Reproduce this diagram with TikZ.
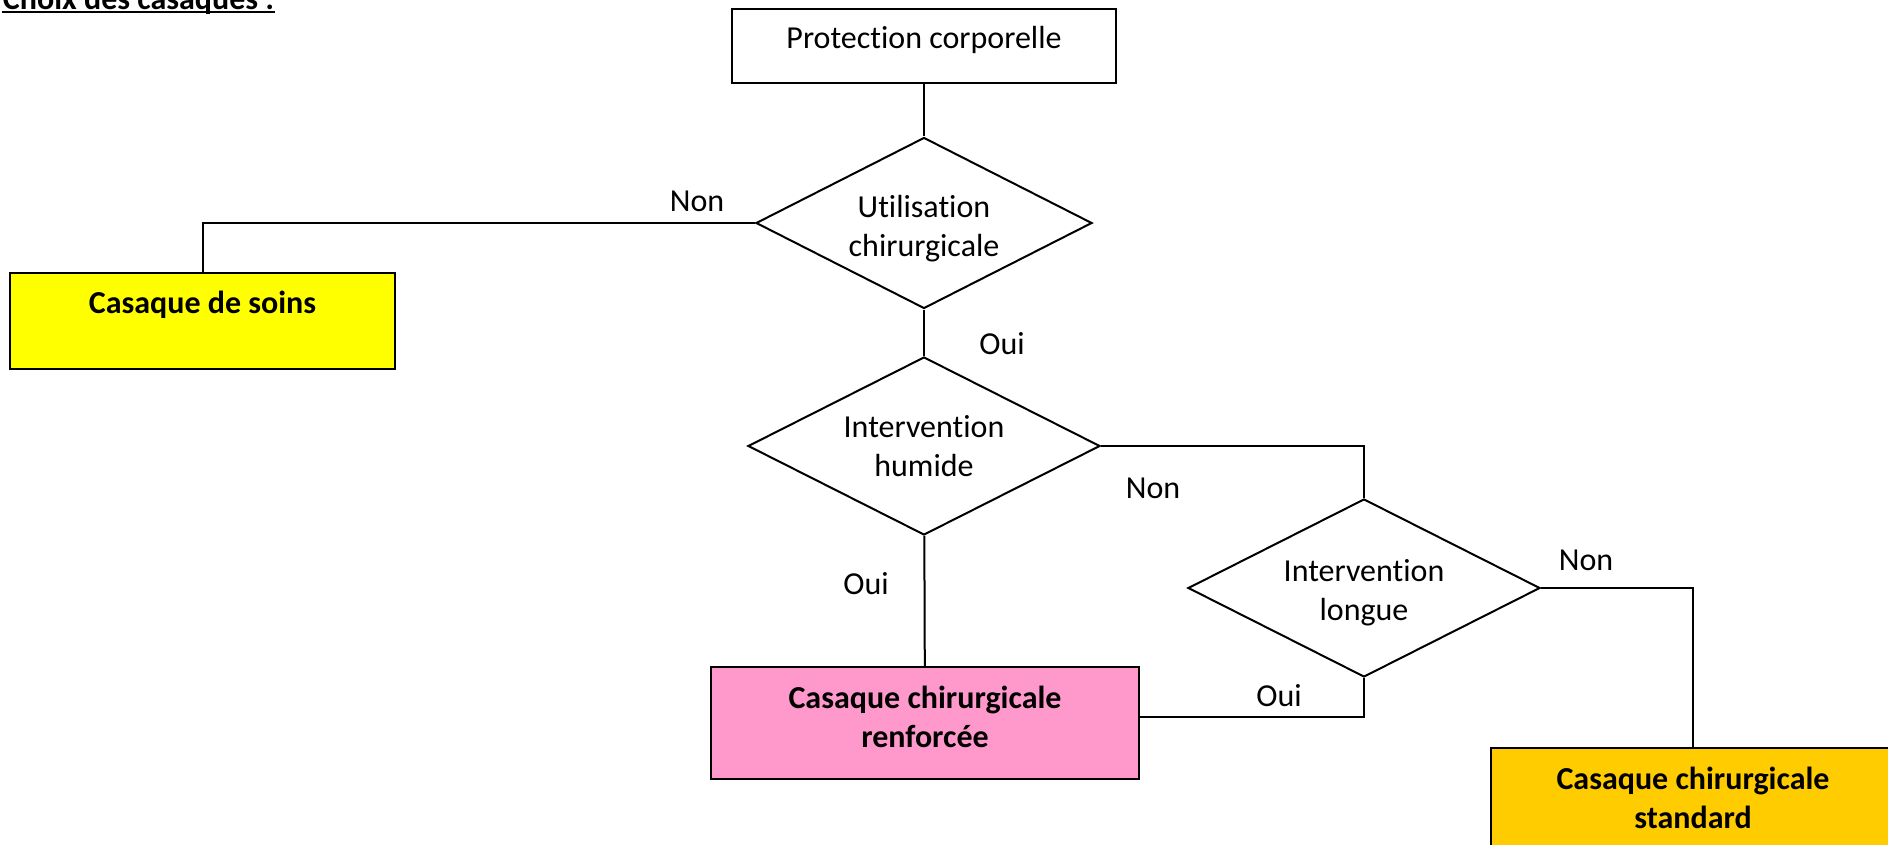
\documentclass[tikz,border=0pt]{standalone}
\usepackage{fontspec}
\setmainfont{Carlito}[Ligatures=NoCommon]
\usetikzlibrary{shapes.geometric}
\definecolor{jaunesoins}{HTML}{FFFF00}
\definecolor{roserenf}{HTML}{FF99CC}
\definecolor{orstd}{HTML}{FFCC00}
\begin{document}
\begin{tikzpicture}[x=0.5pt, y=-0.5pt, line width=1pt,
  every node/.style={font=\fontsize{16}{19.5}\selectfont},
  boite/.style={draw, rectangle, align=center, inner sep=0pt},
  final/.style={boite, font=\fontsize{16}{19.5}\selectfont\bfseries},
  choix/.style={draw, diamond, aspect=2, align=center, inner sep=0pt},
  rep/.style={inner sep=0pt, anchor=base}]
  \useasboundingbox (0,0) rectangle (1888,845);
  % titre
  \node [inner sep=0pt, anchor=base west, font=\fontsize{16}{19.5}\selectfont\bfseries] (titre) at (2,10) {Choix des casaques :};
  \draw ([yshift=-1pt]titre.base west) -- ([yshift=-1pt]titre.base east);
  % boites et choix
  \node [boite, minimum width=192pt, minimum height=37pt, text height=11.5pt, text depth=8.5pt] (pc) at (924,46) {Protection corporelle};
  \node [choix, minimum width=168pt, minimum height=85.5pt, text height=36pt] (uc) at (924,223) {Utilisation\\chirurgicale};
  \node [final, fill=jaunesoins, minimum width=192.5pt, minimum height=48pt, text depth=18.5pt] (cs) at (202.5,321) {Casaque de soins};
  \node [choix, minimum width=176pt, minimum height=89pt] (ih) at (924,446) {Intervention\\humide};
  \node [choix, minimum width=176pt, minimum height=89pt, text height=35pt] (il) at (1364,588) {Intervention\\longue};
  \node [final, fill=roserenf, minimum width=214pt, minimum height=56pt, text depth=6pt] (ccr) at (925,723) {Casaque chirurgicale\\renforcée};
  \node [final, fill=orstd, minimum width=202pt, minimum height=56pt, text depth=6pt] (ccs) at (1693,804) {Casaque chirurgicale\\standard};
  % reponses
  \node [rep] (n1) at (697,212) {Non};
  \node [rep] (o1) at (1002,354) {Oui};
  \node [rep] (n2) at (1153,498) {Non};
  \node [rep] (o2) at (866,594) {Oui};
  \node [rep] (n3) at (1586,570) {Non};
  \node [rep] (o3) at (1279,706) {Oui};
  % liaisons
  \draw (pc) -- (uc);
  \draw (uc.west) -| (cs.north);
  \draw (uc) -- (ih);
  \draw (ih.east) -| (il.north);
  \draw (ih) -- (ccr);
  \draw (il.east) -| (ccs.north);
  \draw (il.south) |- ([yshift=3pt]ccr.east);
\end{tikzpicture}
\end{document}
